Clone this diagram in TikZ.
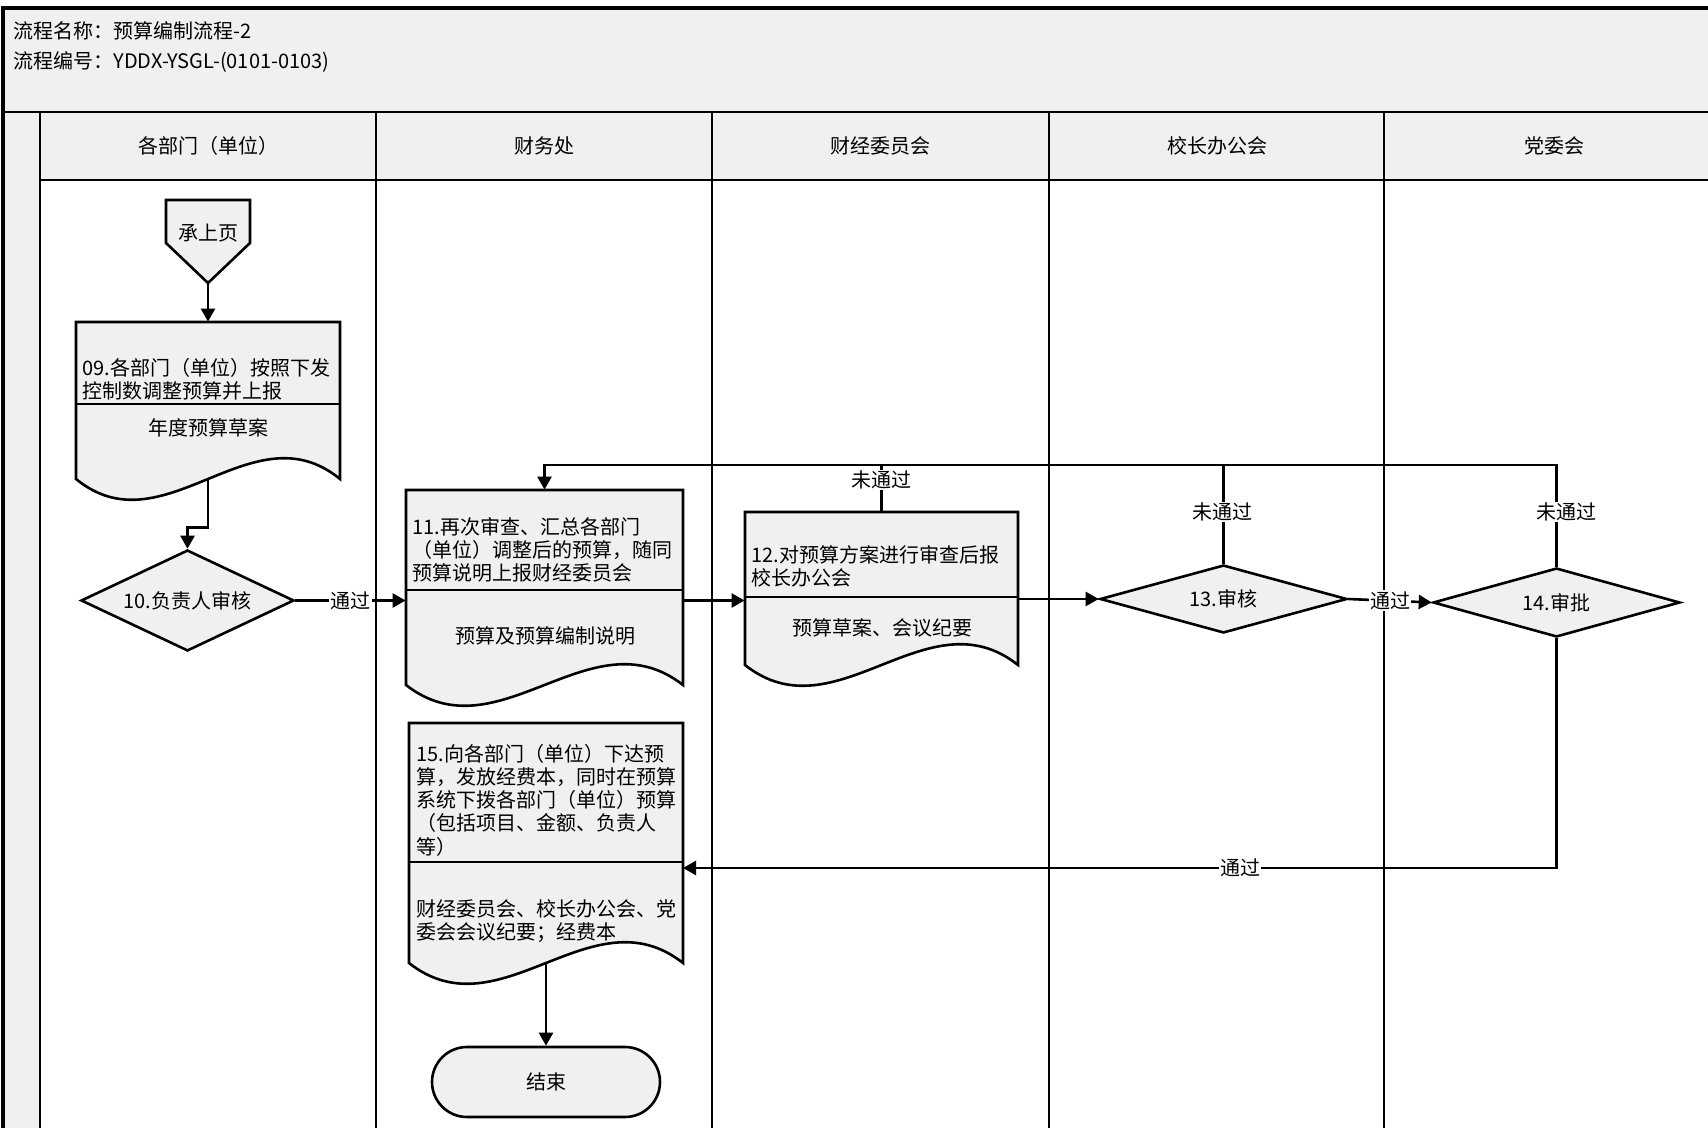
\documentclass[tikz,border=0pt]{standalone}
\usepackage{fontspec}
\setmainfont{Noto Sans CJK SC}
\usetikzlibrary{shapes.geometric,arrows.meta}
\definecolor{bg}{HTML}{F0F0F0}
\newcommand\mydoc[6]{%
  \draw[shp] (#2,#4) -- (#3,#4) -- (#3,#6) .. controls ({#3-(#3-#2)/3},{#6-72}) and ({#2+(#3-#2)/3},{#6+72}) .. (#2,#6) -- cycle;
  \draw[line width=1.3pt] (#2,#5) -- (#3,#5);
  \node[inner sep=0pt, minimum width={(#3-#2)*0.5pt}, minimum height={(#6-#4)*0.5pt}] (#1) at ({(#2+#3)/2},{(#4+#6)/2}) {};
}
\begin{document}
\begin{tikzpicture}[x=0.5pt,y=-0.5pt,
  every node/.style={font=\fontsize{10pt}{11.6pt}\selectfont, inner sep=0pt},
  shp/.style={draw, line width=1.3pt, fill=bg},
  conn/.style={line width=1.3pt},
  arr/.style={conn, -{Triangle[length=6.5pt,width=7pt]}},
  lbl/.style={fill=white, inner sep=0.6pt},
  lane/.style={line width=1.2pt},
  dia/.style={shp, diamond, inner sep=0pt},
  txt/.style={align=left, anchor=west}
]
\useasboundingbox (0,0) rectangle (1708,1128);
% frame
\fill[bg] (3,8) rectangle (1708,112);
\fill[bg] (40,112) rectangle (1708,180);
\fill[bg] (3,112) rectangle (40,1128);
\draw[line width=2pt] (3,1128) -- (3,8) -- (1710,8);
\draw[lane] (3,112) -- (1710,112);
\draw[lane] (40,180) -- (1710,180);
\foreach \x in {40,376,712,1049,1384} \draw[lane] (\x,112) -- (\x,1130);
% header
\node[anchor=west] (title) at (13,31) {流程名称：预算编制流程-2};
\node[anchor=west] (code) at (13,62) {流程编号：YDDX-YSGL-(0101-0103)};
\node (h1) at (208,146) {各部门（单位）};
\node (h2) at (544,146) {财务处};
\node (h3) at (880,146) {财经委员会};
\node (h4) at (1217,146) {校长办公会};
\node (h5) at (1554,146) {党委会};
% start connector
\draw[shp] (166,200) -- (250,200) -- (250,243) -- (208,283) -- (166,243) -- cycle;
\node (start) at (208,233) {承上页};
\coordinate (starttip) at (208,283);
% documents
\mydoc{b09}{76}{340}{322}{404}{479}
\node[txt] (t09) at (82,379) {09.各部门（单位）按照下发\\控制数调整预算并上报};
\node (o09) at (208,428) {年度预算草案};
\mydoc{b11}{406}{683}{490}{590}{685}
\node[txt] (t11) at (412,550) {11.再次审查、汇总各部门\\（单位）调整后的预算，随同\\预算说明上报财经委员会};
\node (o11) at (545,636) {预算及预算编制说明};
\mydoc{b12}{745}{1018}{512}{597}{665}
\node[txt] (t12) at (751,566) {12.对预算方案进行审查后报\\校长办公会};
\node (o12) at (882,628) {预算草案、会议纪要};
\mydoc{b15}{409}{683}{723}{862}{963}
\node[txt] (t15) at (416,800) {15.向各部门（单位）下达预\\算，发放经费本，同时在预算\\系统下拨各部门（单位）预算\\（包括项目、金额、负责人\\等）};
\node[txt] (o15) at (416,921) {财经委员会、校长办公会、党\\委会会议纪要；经费本};
% decisions
\node[dia, shape aspect=2.1, minimum width=106.5pt, minimum height=50.5pt] (d10) at (187.5,600.5) {10.负责人审核};
\node[dia, shape aspect=3.6, minimum width=123.5pt, minimum height=34pt] (d13) at (1223.5,599) {13.审核};
\node[dia, shape aspect=3.6, minimum width=123.5pt, minimum height=34.5pt] (d14) at (1556.5,602.5) {14.审批};
\node[shp, rounded corners=17.5pt, minimum width=114pt, minimum height=35pt] (end) at (546,1082) {结束};
% connectors
\draw[arr] (starttip) -- (b09.north);
\draw[arr] (b09.south) -- ++(0,48) -| (d10.north);
\draw[arr] (d10.east) -- (d10.east -| b11.west) node[midway,lbl] {通过};
\draw[arr] (d10.east -| b11.east) -- (d10.east -| b12.west);
\draw[arr] (d13.west -| b12.east) -- (d13.west);
\draw[arr] (d13.east) -- (d14.west) node[midway,lbl] {通过};
\coordinate (fb) at (544.5,465);
\draw[arr] (d14.north) |- (fb) -- (b11.north);
\draw[conn] (d13.north) -- (d13.north |- fb);
\draw[conn] (b12.north) -- (b12.north |- fb);
\coordinate (b15in) at (683,868);
\draw[arr] (d14.south) |- (b15in);
\draw[arr] (b15.south) -- (end.north);
% labels
\node[lbl] (l1) at (1222,512) {未通过};
\node[lbl] (l2) at (1566,512) {未通过};
\node[lbl] (l3) at (881,480) {未通过};
\node[lbl] (l4) at (1240,868) {通过};
\end{tikzpicture}
\end{document}
